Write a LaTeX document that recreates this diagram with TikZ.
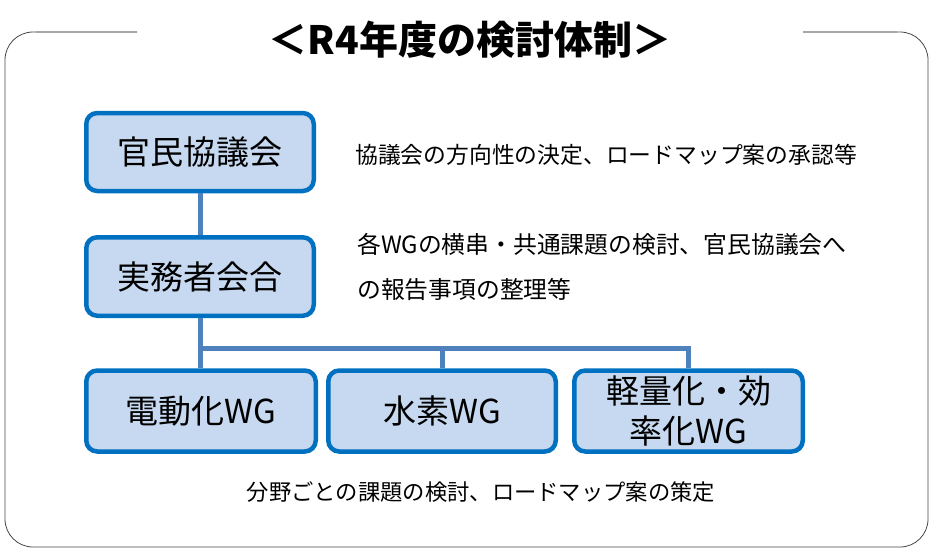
\documentclass[tikz,border=0pt]{standalone}
\usepackage{fontspec}
\setmainfont{Noto Sans CJK JP}
\definecolor{boxline}{RGB}{0,112,192}
\definecolor{boxfill}{RGB}{198,217,240}
\definecolor{conn}{RGB}{79,129,189}
\definecolor{frame}{RGB}{70,70,70}
\tikzset{
  orgbox/.style={draw=boxline, fill=boxfill, line width=4.5pt, rounded corners=11pt,
    minimum width=227.5pt, minimum height=78pt, inner sep=0pt, align=center,
    font=\fontsize{33}{40}\selectfont},
  wgbox/.style={orgbox, minimum height=81pt},
  conline/.style={draw=conn, line width=5pt},
  desc/.style={font=\fontsize{22.8}{45}\selectfont, align=left, inner sep=0pt}
}
\begin{document}
\begin{tikzpicture}[x=1pt,y=-1pt]
\useasboundingbox (0,0) rectangle (933,549);
% frame
\draw[frame, line width=0.8pt, rounded corners=28pt] (137,32) -- (5,32) -- (5,547) -- (928,547) -- (928,32) -- (803,32);
\draw[gray!70, line width=1.6pt] (137,32) -- (36,32);
\draw[gray!70, line width=1.6pt] (897,32) -- (803,32);
% title
\node[font=\fontsize{39}{44}\selectfont\bfseries] (title) at (470,40) {＜R4年度の検討体制＞};
% boxes
\node[orgbox] (kanmin) at (200,152) {官民協議会};
\node[orgbox, minimum height=78.5pt] (jitsumu) at (200,276.5) {実務者会合};
\node[wgbox, minimum width=229.5pt] (ev) at (201,411) {電動化WG};
\node[wgbox] (h2) at (442,411) {水素WG};
\node[wgbox, minimum width=228.5pt] (lw) at (688.5,411) {軽量化・効\\率化WG};
% connectors
\coordinate (hl) at (200,348);
\draw[conline] (kanmin.south) -- (jitsumu.north);
\draw[conline] (jitsumu.south) -- (jitsumu.south |- ev.north);
\draw[conline] (hl) -| (h2.north);
\draw[conline] (hl) -| (lw.north);
% descriptions
\node[desc, anchor=west] (d1) at (355,155) {協議会の方向性の決定、ロードマップ案の承認等};
\node[desc, anchor=west, font=\fontsize{23.8}{45}\selectfont] (d2) at (357,266.5) {各WGの横串・共通課題の検討、官民協議会へ\\の報告事項の整理等};
\node[desc, font=\fontsize{22.3}{30}\selectfont] (d3) at (481,492) {分野ごとの課題の検討、ロードマップ案の策定};
\end{tikzpicture}
\end{document}
